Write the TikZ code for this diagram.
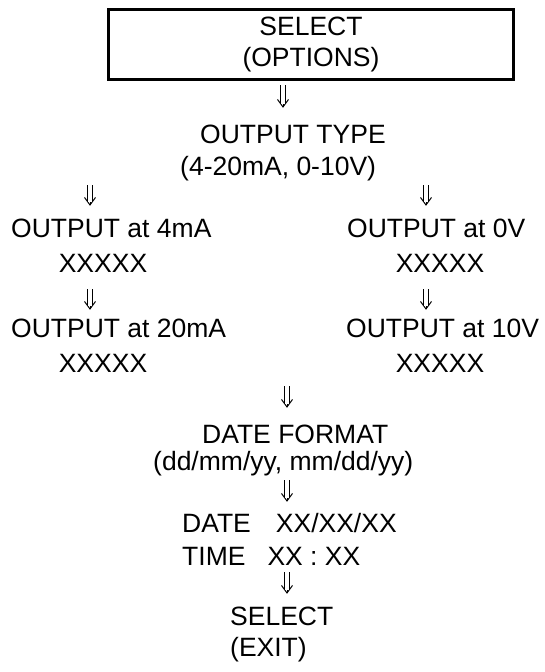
\documentclass[tikz,border=0pt]{standalone}
\usepackage{fontspec}
\setmainfont{Liberation Sans}
\usetikzlibrary{arrows.meta,positioning}

\begin{document}
\begin{tikzpicture}[x=1pt,y=-1pt,
  txt/.style={inner sep=0pt,anchor=base,text height=19.5pt,text depth=5.5pt,
    font=\fontsize{26.5}{31}\selectfont},
  dn/.style={draw,line width=1pt,-{Straight Barb[length=7.5pt,width=11pt]},
    postaction={draw,-,double,double distance=3.4pt,line width=1pt,shorten >=3.6pt}}]
\useasboundingbox (0,0) rectangle (544,672);
% menu box
\node[draw,line width=3pt,minimum width=405pt,minimum height=70pt,align=center,
  font=\fontsize{26.5}{31}\selectfont] (optbox) at (311,44.5) {SELECT\\(OPTIONS)};
\node[txt,anchor=base west] (otype) at (200,143) {OUTPUT TYPE};
\node[txt,anchor=base west] (orange) at (180,175) {(4-20mA, 0-10V)};
% current output
\node[txt,anchor=base west] (o4) at (11,237) {OUTPUT at 4mA};
\node[txt] (x4) at (103,272) {XXXXX};
\node[txt,anchor=base west] (o20) at (11,337) {OUTPUT at 20mA};
\node[txt] (x20) at (103,372) {XXXXX};
% voltage output
\node[txt,anchor=base west] (o0) at (347,237) {OUTPUT at 0V};
\node[txt] (x0) at (440,272) {XXXXX};
\node[txt,anchor=base west] (o10) at (346,337) {OUTPUT at 10V};
\node[txt] (x10) at (440,372) {XXXXX};
% date and time
\node[txt,anchor=base west] (dfmt) at (202,443) {DATE FORMAT};
\node[txt,anchor=base west] (dorder) at (153,470) {(dd/mm/yy, mm/dd/yy)};
\node[txt,anchor=base west] (date) at (182,532) {DATE\hspace{25pt}XX/XX/XX};
\node[txt,anchor=base west] (time) at (182,565) {TIME\hspace{22pt}XX : XX};
\node[txt,anchor=base west] (sel) at (230,625) {SELECT};
\node[txt,anchor=base west] (exit) at (230,656) {(EXIT)};

\draw[dn] ([yshift=-4pt]optbox.south -| 283,0) -- ([yshift=15.5pt]otype.north -| 283,0);
\draw[dn] ([yshift=-4.5pt]orange.south -| 90,0) -- ([yshift=11.5pt]o4.north -| 90,0);
\draw[dn] ([yshift=-4.5pt]orange.south -| 426,0) -- ([yshift=11.5pt]o0.north -| 426,0);
\draw[dn] ([yshift=-11.5pt]x4.south -| 90,0) -- ([yshift=7.5pt]o20.north -| 90,0);
\draw[dn] ([yshift=-11.5pt]x0.south -| 426,0) -- ([yshift=7.5pt]o10.north -| 426,0);
\draw[dn] ([yshift=-8.5pt]x20.south -| 287,0) -- ([yshift=15.5pt]dfmt.north -| 287,0);
\draw[dn] ([yshift=-4.5pt]dorder.south -| 287,0) -- ([yshift=10.5pt]date.north -| 287,0);
\draw[dn] ([yshift=-1.5pt]time.south -| 287,0) -- ([yshift=11.5pt]sel.north -| 287,0);
\end{tikzpicture}
\end{document}
